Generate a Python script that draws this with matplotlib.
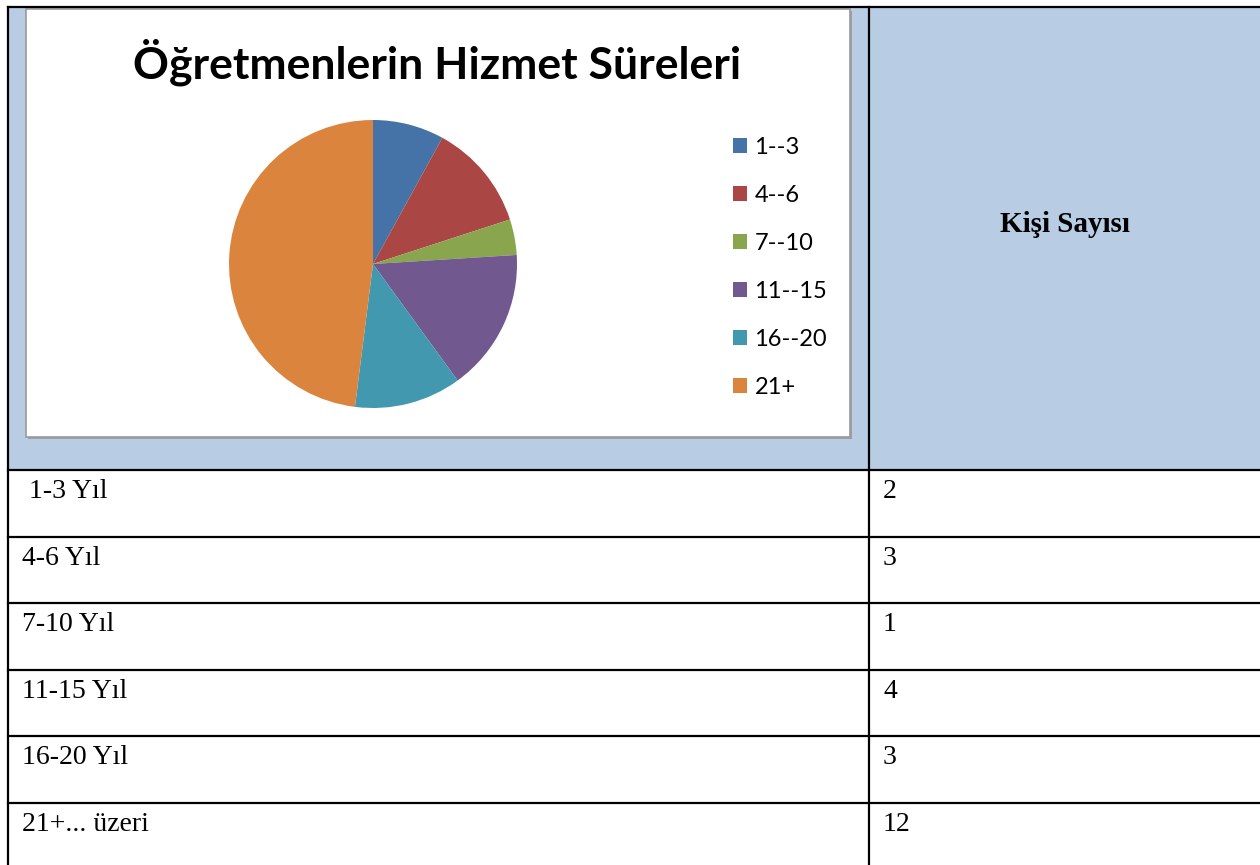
import matplotlib
matplotlib.use("Agg")
import matplotlib.pyplot as plt
from matplotlib.patches import Rectangle

# data from the table / pie
categories = ['1--3', '4--6', '7--10', '11--15', '16--20', '21+']
row_labels = [' 1-3 Yıl', '4-6 Yıl', '7-10 Yıl', '11-15 Yıl', '16-20 Yıl', '21+... üzeri']
counts = [2, 3, 1, 4, 3, 12]
colors = ['#4572A7', '#AA4643', '#89A54E', '#71588F', '#4198AF', '#DB843D']

W, H = 1260, 865
fig = plt.figure(figsize=(W / 100, H / 100), dpi=100)

# background axes in pixel units for the table
bg = fig.add_axes([0, 0, 1, 1])
bg.set_xlim(0, W)
bg.set_ylim(H, 0)
bg.axis('off')

# header row (light blue)
bg.add_patch(Rectangle((8, 7), W - 8, 463, facecolor='#B8CCE4', edgecolor='none'))
# chart area box
bg.add_patch(Rectangle((28, 11), 824, 428, facecolor='#A0A0A0', edgecolor='none'))
bg.add_patch(Rectangle((26, 9), 824, 428, facecolor='white', edgecolor='#999999', lw=1.2))

# table lines
lw = 1.6
bg.plot([8, W], [7, 7], color='black', lw=lw)
bg.plot([8, 8], [7, H], color='black', lw=lw)
bg.plot([869, 869], [7, H], color='black', lw=lw)
row_top = 470
row_h = 66.6
for i in range(len(row_labels)):
    y = row_top + i * row_h
    bg.plot([8, W], [y, y], color='black', lw=lw)
    bg.text(22, y + 28, row_labels[i], fontsize=20, family='Liberation Serif',
            va='baseline', ha='left')
    bg.text(883, y + 28, str(counts[i]), fontsize=20, family='Liberation Serif',
            va='baseline', ha='left')

bg.text(1065, 225, 'Kişi Sayısı', fontsize=21, family='Liberation Serif',
        fontweight='bold', ha='center', va='center')

# chart title
bg.text(437, 62, 'Öğretmenlerin Hizmet Süreleri', fontsize=32, family='Lato',
        fontweight='bold', ha='center', va='center')

# pie
cx, cy, r = 373, 264, 144
pax = fig.add_axes([(cx - r) / W, (H - cy - r) / H, 2 * r / W, 2 * r / H])
wedges, _ = pax.pie(counts, colors=colors, startangle=90, counterclock=False,
                    radius=1)
pax.set_xlim(-1, 1)
pax.set_ylim(-1, 1)
pax.set_aspect('equal')

leg = fig.legend(wedges, categories, loc='upper left',
                 bbox_to_anchor=(712 / W, 1 - 116 / H),
                 frameon=False, prop={'family': 'Lato', 'size': 17},
                 handlelength=0.6, handleheight=0.6, handletextpad=0.3,
                 labelspacing=1.14)

fig.savefig('out.png', dpi=100)
